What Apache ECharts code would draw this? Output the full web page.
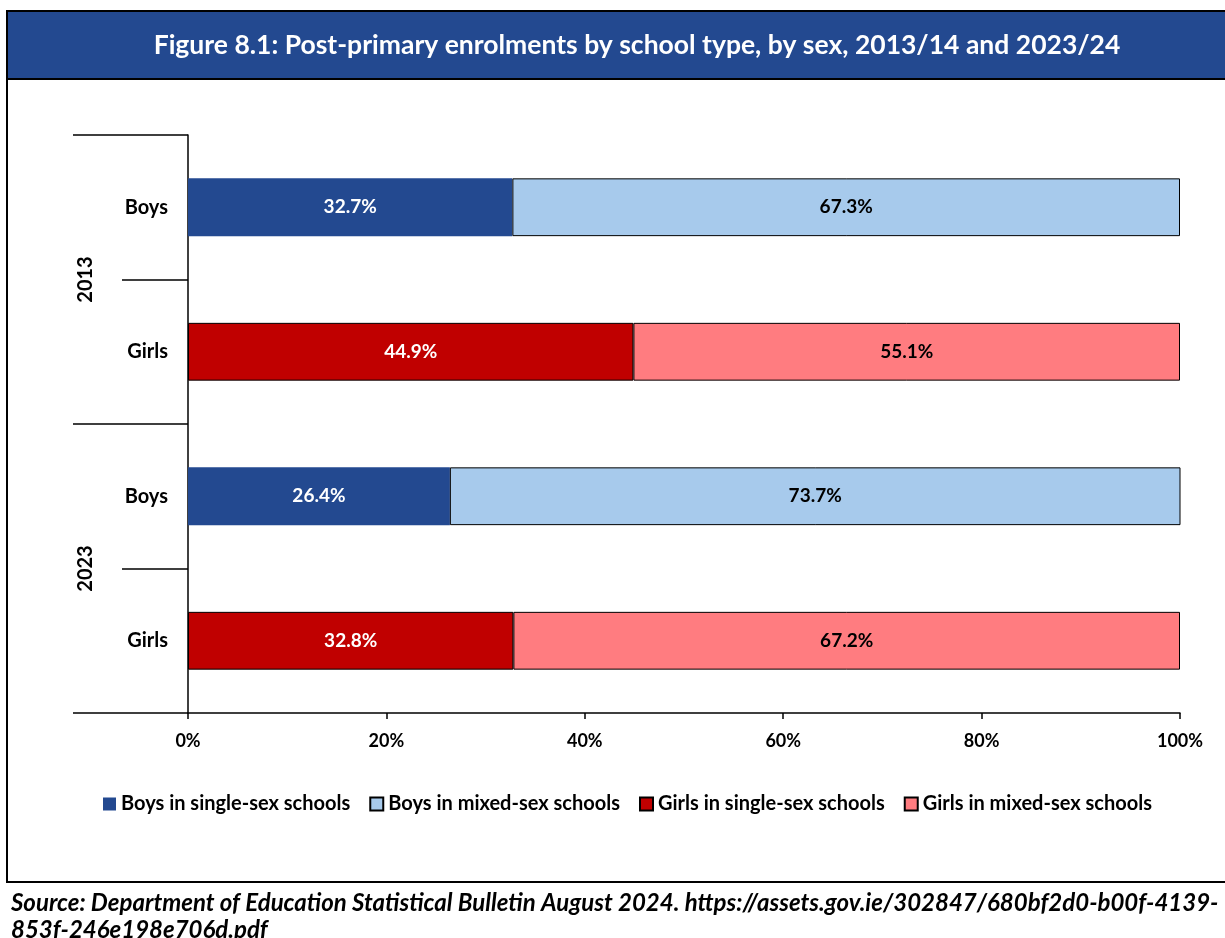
<!DOCTYPE html>
<html>
<head>
<meta charset="utf-8">
<script src="https://cdn.jsdelivr.net/npm/echarts@6/dist/echarts.min.js"></script>
<style>
  html, body { margin: 0; padding: 0; background: #ffffff; }
  #chart { width: 1225px; height: 938px; }
</style>
</head>
<body>
<div id="chart"></div>
<script>
// Row groups (outer axis) and rows (inner axis), top to bottom
const years = ['2013', '2023'];
const rowKeys = ['2013|Boys', '2013|Girls', '2023|Boys', '2023|Girls'];

// Share of enrolments (%) per row
const boysSingle  = [32.7, null, 26.4, null];
const boysMixed   = [67.3, null, 73.7, null];
const girlsSingle = [null, 44.9, null, 32.8];
const girlsMixed  = [null, 55.1, null, 67.2];

const seriesNames = [
  'Boys in single-sex schools',
  'Boys in mixed-sex schools',
  'Girls in single-sex schools',
  'Girls in mixed-sex schools'
];

const titleText = 'Figure 8.1: Post-primary enrolments by school type, by sex, 2013/14 and 2023/24';
const sourceText = 'Source: Department of Education Statistical Bulletin August 2024. https://assets.gov.ie/302847/680bf2d0-b00f-4139-\n853f-246e198e706d.pdf';

const FONT = 'Lato';
const NAVY = '#234990';

function segment(name, data, color, labelColor, bordered) {
  return {
    name: name,
    type: 'bar',
    stack: 'share',
    yAxisIndex: 0,
    data: data,
    barCategoryGap: '60%',
    itemStyle: {
      color: color,
      borderColor: bordered ? '#000000' : color,
      borderWidth: bordered ? 1 : 0
    },
    label: {
      show: true,
      position: 'inside',
      color: labelColor,
      fontFamily: FONT,
      fontWeight: 'bold',
      fontSize: 19,
      formatter: p => p.value.toFixed(1) + '%'
    },
    emphasis: { disabled: true }
  };
}

const chart = echarts.init(document.getElementById('chart'), null, { renderer: 'canvas' });

chart.setOption({
  animation: false,
  backgroundColor: '#ffffff',
  title: [
    {
      text: titleText,
      left: 632,
      textAlign: 'center',
      top: 27,
      textStyle: { color: '#ffffff', fontFamily: FONT, fontWeight: 'bold', fontSize: 26.5 }
    },
    {
      text: sourceText,
      left: 6,
      top: 885,
      textStyle: {
        color: '#000000', fontFamily: FONT, fontWeight: 'bold', fontStyle: 'italic',
        fontSize: 24, lineHeight: 27
      }
    }
  ],
  graphic: [
    {
      type: 'rect', z: -1,
      shape: { x: 7, y: 11, width: 1260, height: 68 },
      style: { fill: NAVY, stroke: '#000000', lineWidth: 2 }
    },
    {
      type: 'line', z: -1,
      shape: { x1: 7, y1: 11, x2: 7, y2: 882 },
      style: { stroke: '#000000', lineWidth: 2 }
    },
    {
      type: 'line', z: -1,
      shape: { x1: 6, y1: 882, x2: 1230, y2: 882 },
      style: { stroke: '#000000', lineWidth: 2 }
    }
  ],
  legend: {
    data: seriesNames,
    left: 98,
    top: 789,
    icon: 'rect',
    itemWidth: 13,
    itemHeight: 13,
    itemGap: 19,
    textStyle: { color: '#000000', fontFamily: FONT, fontWeight: 'bold', fontSize: 20 }
  },
  grid: { left: 188, right: 45, top: 135, bottom: 225, containLabel: false },
  xAxis: {
    type: 'value',
    min: 0,
    max: 100,
    interval: 20,
    splitLine: { show: false },
    axisLine: { show: true, lineStyle: { color: '#000000', width: 1.5 } },
    axisTick: { show: true, length: 6, lineStyle: { color: '#000000', width: 1.5 } },
    axisLabel: {
      margin: 19, color: '#000000', fontFamily: FONT, fontWeight: 'bold', fontSize: 18,
      formatter: v => v + '%'
    }
  },
  yAxis: [
    {
      type: 'category',
      data: rowKeys,
      inverse: true,
      position: 'left',
      axisLine: { show: true, onZero: false, lineStyle: { color: '#000000', width: 1.5 } },
      axisTick: { show: true, length: 66, interval: 0, lineStyle: { color: '#000000', width: 1.5 } },
      axisLabel: {
        margin: 20, color: '#000000', fontFamily: FONT, fontWeight: 'bold', fontSize: 20,
        formatter: v => v.split('|')[1]
      }
    },
    {
      type: 'category',
      data: years,
      inverse: true,
      position: 'left',
      offset: 0,
      axisLine: { show: false },
      axisTick: { show: true, length: 115, interval: 0, lineStyle: { color: '#000000', width: 1.5 } },
      axisLabel: {
        rotate: 90, margin: 92, color: '#000000', fontFamily: FONT, fontWeight: 'bold', fontSize: 20
      }
    }
  ],
  series: [
    segment(seriesNames[0], boysSingle, NAVY, '#ffffff', false),
    segment(seriesNames[1], boysMixed, '#A7CAEC', '#000000', true),
    segment(seriesNames[2], girlsSingle, '#C00000', '#ffffff', true),
    segment(seriesNames[3], girlsMixed, '#FF7C80', '#000000', true)
  ]
});
</script>
</body>
</html>
